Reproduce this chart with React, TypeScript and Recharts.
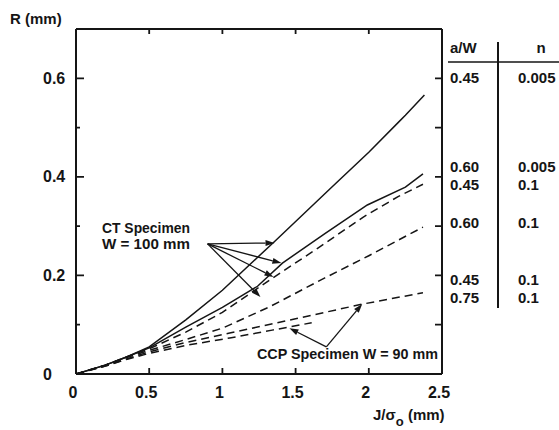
import React from 'react';
import { LineChart, Line, XAxis, YAxis, ReferenceLine } from 'recharts';

const FONT = '"Liberation Sans", Arial, Helvetica, sans-serif';
const INK = '#151515';

// J/sigma_o (mm) and R (mm)

// CT specimen, a/W = 0.45, n = 0.005 (solid)
const ctA45n005J = [0, 0.2, 0.35, 0.5, 0.75, 1, 1.36, 1.75, 2, 2.2, 2.25, 2.38];
const ctA45n005R = [0, 0.018, 0.035, 0.055, 0.11, 0.17, 0.27, 0.38, 0.45, 0.51, 0.525, 0.566];

// CT specimen, a/W = 0.60, n = 0.005 (solid)
const ctA60n005J = [0, 0.2, 0.35, 0.5, 0.75, 1, 1.24, 1.41, 1.7, 1.99, 2.25, 2.37];
const ctA60n005R = [0, 0.018, 0.035, 0.053, 0.095, 0.135, 0.178, 0.225, 0.285, 0.343, 0.379, 0.406];

// CT specimen, a/W = 0.45, n = 0.1 (dashed)
const ctA45n01J = [0, 0.2, 0.35, 0.5, 0.75, 1, 1.32, 1.65, 1.96, 2.2, 2.37];
const ctA45n01R = [0, 0.018, 0.035, 0.051, 0.085, 0.125, 0.19, 0.255, 0.318, 0.36, 0.385];

// CT specimen, a/W = 0.60, n = 0.1 (dashed)
const ctA60n01J = [0, 0.2, 0.35, 0.5, 0.75, 1, 1.32, 1.7, 2, 2.37];
const ctA60n01R = [0, 0.018, 0.034, 0.048, 0.07, 0.093, 0.136, 0.195, 0.24, 0.298];

// CCP specimen, a/W = 0.45, n = 0.1 (dashed)
const ccpA45n01J = [0, 0.2, 0.35, 0.5, 0.75, 1.05, 1.5, 1.96, 2.37];
const ccpA45n01R = [0, 0.016, 0.031, 0.045, 0.064, 0.083, 0.112, 0.142, 0.165];

// CCP specimen, a/W = 0.75, n = 0.1 (dashed)
const ccpA75n01J = [0, 0.2, 0.35, 0.5, 0.75, 1.05, 1.34, 1.61];
const ccpA75n01R = [0, 0.016, 0.03, 0.042, 0.058, 0.073, 0.089, 0.104];

const xTicks = [0, 0.5, 1, 1.5, 2, 2.5];
const yTicks = [0, 0.1, 0.2, 0.3, 0.4, 0.5, 0.6];
const yLabelTicks = [0, 0.2, 0.4, 0.6];

// right-hand legend table
const tableAW = ['0.45', '0.60', '0.45', '0.60', '0.45', '0.75'];
const tableN = ['0.005', '0.005', '0.1', '0.1', '0.1', '0.1'];

// annotation arrows, in data units: [fromJ, fromR, toJ, toR]
const ctArrows = [
  [0.899, 0.264, 1.356, 0.266],
  [0.899, 0.264, 1.403, 0.225],
  [0.899, 0.264, 1.349, 0.197],
  [0.899, 0.264, 1.26, 0.156],
];
const ccpArrows = [
  [1.71, 0.055, 1.955, 0.142],
  [1.71, 0.055, 1.458, 0.093],
];

const series = [
  { J: ctA45n005J, R: ctA45n005R, dashed: false },
  { J: ctA60n005J, R: ctA60n005R, dashed: false },
  { J: ctA45n01J, R: ctA45n01R, dashed: true },
  { J: ctA60n01J, R: ctA60n01R, dashed: true },
  { J: ccpA45n01J, R: ccpA45n01R, dashed: true },
  { J: ccpA75n01J, R: ccpA75n01R, dashed: true },
];

const tableRowY = [78, 167, 185, 223, 280, 298];

const LeftTick = (p: any) => {
  const v = p.payload.value;
  if (!yLabelTicks.includes(v)) return <g />;
  return (
    <text x={p.x - 33} y={p.y} dy="0.35em" fontSize={16} fontWeight={600} fontFamily={FONT} fill={INK}>
      {v}
    </text>
  );
};

const BottomTick = (p: any) => (
  <text
    x={p.x - 3}
    y={p.y + 18}
    dy="0.35em"
    textAnchor="middle"
    fontSize={16}
    fontWeight={600}
    fontFamily={FONT}
    fill={INK}
  >
    {p.payload.value}
  </text>
);

// inward tick stubs on both frame sides, drawn from a reference line's end points
const hStub = (left: number, right: number) => (p: any) =>
  (
    <path
      d={`M${Math.min(p.x1, p.x2)},${p.y1}h${left}M${Math.max(p.x1, p.x2)},${p.y1}h${-right}`}
      stroke={INK}
      strokeWidth={1.8}
      fill="none"
    />
  );

const vStub = (p: any) => (
  <path
    d={`M${p.x1},${Math.max(p.y1, p.y2)}v-6M${p.x1},${Math.min(p.y1, p.y2)}v5`}
    stroke={INK}
    strokeWidth={1.8}
    fill="none"
  />
);

const Arrow = (p: any) => {
  const { x1, y1, x2, y2 } = p;
  const a = Math.atan2(y2 - y1, x2 - x1);
  const L = 9;
  const W = 3;
  const bx = x2 - L * Math.cos(a);
  const by = y2 - L * Math.sin(a);
  const pts = `${x2},${y2} ${bx - W * Math.sin(a)},${by + W * Math.cos(a)} ${bx + W * Math.sin(a)},${by - W * Math.cos(a)}`;
  return (
    <g>
      <line x1={x1} y1={y1} x2={bx} y2={by} stroke={INK} strokeWidth={1.3} />
      <polygon points={pts} fill={INK} />
    </g>
  );
};

export default function App() {
  const txt = { fontFamily: FONT, fill: INK, fontWeight: 600 };
  return (
    <div style={{ position: 'fixed', left: 0, top: 0, width: 559, height: 430, background: '#fff' }}>
      <LineChart width={559} height={430} margin={{ top: 28, right: 116, bottom: 55, left: 75 }}>
        <XAxis
          xAxisId="b"
          type="number"
          dataKey="j"
          domain={[0, 2.5]}
          ticks={xTicks}
          interval={0}
          height={1}
          tickSize={0}
          tickMargin={0}
          tickLine={false}
          axisLine={{ stroke: INK, strokeWidth: 2 }}
          tick={BottomTick}
          allowDataOverflow
        />
        <XAxis
          xAxisId="t"
          orientation="top"
          type="number"
          domain={[0, 2.5]}
          height={1}
          tickLine={false}
          axisLine={{ stroke: INK, strokeWidth: 2 }}
          tick={false}
        />
        <YAxis
          yAxisId="l"
          type="number"
          domain={[0, 0.7]}
          ticks={yTicks}
          interval={0}
          width={1}
          tickSize={0}
          tickMargin={0}
          tickLine={false}
          axisLine={{ stroke: INK, strokeWidth: 2 }}
          tick={LeftTick}
          allowDataOverflow
        />
        <YAxis
          yAxisId="r"
          orientation="right"
          type="number"
          domain={[0, 0.7]}
          width={1}
          tickLine={false}
          axisLine={{ stroke: INK, strokeWidth: 2 }}
          tick={false}
        />
        {yTicks
          .filter((v) => v > 0)
          .map((v) => (
            <ReferenceLine
              key={'ys' + v}
              xAxisId="b"
              yAxisId="l"
              y={v}
              ifOverflow="visible"
              shape={hStub(yLabelTicks.includes(v) ? 8 : 4, 7)}
            />
          ))}
        {xTicks
          .filter((v) => v > 0 && v < 2.5)
          .map((v) => (
            <ReferenceLine key={'xs' + v} xAxisId="b" yAxisId="l" x={v} ifOverflow="visible" shape={vStub} />
          ))}
        {series.map((s, i) => (
          <Line
            key={i}
            xAxisId="b"
            yAxisId="l"
            data={s.J.map((j, k) => ({ j, r: s.R[k] }))}
            dataKey="r"
            type="linear"
            dot={false}
            activeDot={false}
            stroke={INK}
            strokeWidth={1.5}
            strokeDasharray={s.dashed ? '8 5' : undefined}
            isAnimationActive={false}
          />
        ))}
        {[...ctArrows, ...ccpArrows].map((a, i) => (
          <ReferenceLine
            key={'a' + i}
            xAxisId="b"
            yAxisId="l"
            segment={[
              { x: a[0], y: a[1] },
              { x: a[2], y: a[3] },
            ]}
            ifOverflow="visible"
            shape={Arrow}
          />
        ))}
      </LineChart>
      <svg width={559} height={430} style={{ position: 'absolute', left: 0, top: 0, pointerEvents: 'none' }}>
        <text x={10} y={19} dy="0.35em" fontSize={15} {...txt}>R (mm)</text>
        <text x={373} y={415} dy="0.35em" fontSize={15} {...txt}>
          J/σ
          <tspan fontSize={13} dy={6}>o</tspan>
          <tspan dy={-6}> (mm)</tspan>
        </text>
        <text x={102} y={228} dy="0.35em" fontSize={14} textLength={88} lengthAdjust="spacingAndGlyphs" {...txt}>CT Specimen</text>
        <text x={102} y={244} dy="0.35em" fontSize={14} textLength={88} lengthAdjust="spacingAndGlyphs" {...txt}>W = 100 mm</text>
        <text x={257} y={354} dy="0.35em" fontSize={14} textLength={181} lengthAdjust="spacingAndGlyphs" {...txt}>
          CCP Specimen W = 90 mm
        </text>
        <text x={450} y={48} dy="0.35em" fontSize={15} {...txt}>a/W</text>
        <text x={541} y={48} dy="0.35em" fontSize={15} textAnchor="middle" {...txt}>n</text>
        <line x1={448} x2={559} y1={62} y2={62} stroke={INK} strokeWidth={1.5} />
        <line x1={498} x2={498} y1={42} y2={308} stroke={INK} strokeWidth={2} />
        {tableAW.map((t, i) => (
          <text key={'aw' + i} x={450} y={tableRowY[i]} dy="0.35em" fontSize={15} {...txt}>{t}</text>
        ))}
        {tableN.map((t, i) => (
          <text key={'n' + i} x={518} y={tableRowY[i]} dy="0.35em" fontSize={15} {...txt}>{t}</text>
        ))}
      </svg>
    </div>
  );
}
